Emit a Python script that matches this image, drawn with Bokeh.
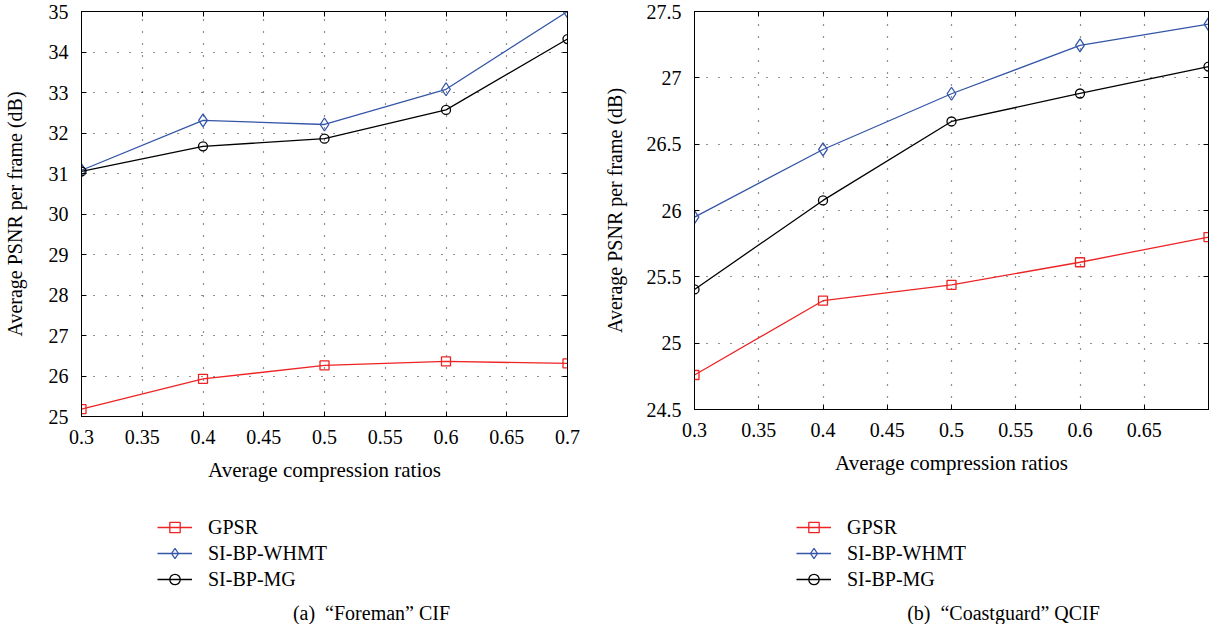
from bokeh.plotting import figure
from bokeh.layouts import row, column
from bokeh.models import (Legend, LegendItem, Label, FixedTicker, LinearAxis,
                          CustomJSTickFormatter, Range1d)
from bokeh.embed import file_html
from bokeh.resources import INLINE

# ---------------- data ----------------
ratios = [0.3, 0.4, 0.5, 0.6, 0.7]
series_names = ["GPSR", "SI-BP-WHMT", "SI-BP-MG"]

foreman_gpsr = [25.18, 25.93, 26.26, 26.36, 26.31]
foreman_whmt = [31.08, 32.31, 32.21, 33.08, 35.0]
foreman_mg = [31.05, 31.67, 31.86, 32.57, 34.32]

coast_gpsr = [24.76, 25.32, 25.44, 25.61, 25.80]
coast_whmt = [25.95, 26.46, 26.88, 27.245, 27.405]
coast_mg = [25.405, 26.076, 26.671, 26.882, 27.085]

x_ticks_a = [0.3, 0.35, 0.4, 0.45, 0.5, 0.55, 0.6, 0.65, 0.7]
x_labels_a = ["0.3", "0.35", "0.4", "0.45", "0.5", "0.55", "0.6", "0.65", "0.7"]
x_ticks_b = [0.3, 0.35, 0.4, 0.45, 0.5, 0.55, 0.6, 0.65]
x_labels_b = ["0.3", "0.35", "0.4", "0.45", "0.5", "0.55", "0.6", "0.65"]
y_ticks_a = [25.0, 26.0, 27.0, 28.0, 29.0, 30.0, 31.0, 32.0, 33.0, 34.0, 35.0]
y_labels_a = ["25", "26", "27", "28", "29", "30", "31", "32", "33", "34", "35"]
y_ticks_b = [24.5, 25.0, 25.5, 26.0, 26.5, 27.0, 27.5]
y_labels_b = ["24.5", "25", "25.5", "26", "26.5", "27", "27.5"]

x_title = "Average compression ratios"
y_title = "Average PSNR per frame (dB)"
caption_a = "(a)\u00a0\u00a0\u201cForeman\u201d CIF"
caption_b = "(b)\u00a0\u00a0\u201cCoastguard\u201d QCIF"

FONT = "Liberation Serif"
RED = "#ee2424"
BLUE = "#3556a8"
BLACK = "#000000"
COLORS = [RED, BLUE, BLACK]
MARKERS = ["square", "diamond", "circle"]
SIZES = [9, 13, 9]


def style_axis(ax, ticks, labels, show_labels=True, standoff=13):
    ax.ticker = FixedTicker(ticks=ticks)
    ax.major_tick_in = 5
    ax.major_tick_out = 0
    ax.minor_tick_in = 0
    ax.minor_tick_out = 0
    ax.axis_line_color = BLACK
    ax.major_tick_line_color = BLACK
    if show_labels:
        ax.major_label_overrides = dict(zip(ticks, labels))
        ax.major_label_text_font = FONT
        ax.major_label_text_font_size = "20px"
        ax.major_label_text_color = BLACK
        ax.major_label_standoff = standoff
    else:
        ax.formatter = CustomJSTickFormatter(code="return ''")
        ax.major_label_text_font_size = "1px"
        ax.major_label_standoff = 0


def make_plot(width, ys, yr, xt, xl, yt, yl, mb_left, mb_right, mb_top, mb_bottom,
              ylab_standoff):
    p = figure(width=width, height=492, x_range=Range1d(0.3, 0.7), y_range=Range1d(*yr),
               output_backend="svg", toolbar_location=None,
               min_border_left=mb_left, min_border_right=mb_right,
               min_border_top=mb_top, min_border_bottom=mb_bottom)
    p.background_fill_color = "white"
    p.border_fill_color = "white"
    p.outline_line_color = BLACK
    p.outline_line_width = 1

    style_axis(p.xaxis[0], xt, xl, True, 13)
    style_axis(p.yaxis[0], yt, yl, True, 13)
    p.xaxis[0].axis_label = x_title
    p.xaxis[0].axis_label_standoff = 11
    p.xaxis[0].axis_label_text_font_size = "21px"
    p.yaxis[0].axis_label = y_title
    p.yaxis[0].axis_label_standoff = ylab_standoff
    p.yaxis[0].axis_label_text_font_size = "20px"
    for ax in (p.xaxis[0], p.yaxis[0]):
        ax.axis_label_text_font = FONT
        ax.axis_label_text_font_style = "normal"
        ax.axis_label_text_color = BLACK

    top = LinearAxis()
    style_axis(top, xt, xl, False)
    p.add_layout(top, "above")
    right = LinearAxis()
    style_axis(right, yt, yl, False)
    p.add_layout(right, "right")

    p.xgrid.ticker = FixedTicker(ticks=xt)
    p.ygrid.ticker = FixedTicker(ticks=yt)
    for g in (p.xgrid, p.ygrid):
        g.grid_line_color = "#222222"
        g.grid_line_width = 1.2
        g.grid_line_dash = "1 11"

    for vals, c, m, s in zip(ys, COLORS, MARKERS, SIZES):
        p.line(ratios, vals, line_color=c, line_width=1.3)
        p.scatter(ratios, vals, marker=m, size=s, line_color=c, line_width=1.3,
                  fill_color=None)
    return p


def make_legend(width, ys, legend_loc, caption, caption_x):
    # legend-only panel: the series are drawn outside its (empty) view range,
    # only their legend glyphs are visible
    q = figure(width=width, height=132, x_range=Range1d(0, 1), y_range=Range1d(0, 1),
               x_axis_location=None, y_axis_location=None, output_backend="svg",
               toolbar_location=None, min_border=0)
    q.grid.visible = False
    q.outline_line_color = None
    q.background_fill_color = "white"
    q.border_fill_color = "white"
    items = []
    for name, vals, c, m, s in zip(series_names, ys, COLORS, MARKERS, SIZES):
        ln = q.line(ratios, vals, line_color=c, line_width=1.3)
        sc = q.scatter(ratios, vals, marker=m, size=s, line_color=c, line_width=1.3,
                       fill_color=None)
        items.append(LegendItem(label=name, renderers=[ln, sc]))
    leg = Legend(items=items, location=legend_loc, orientation="vertical",
                 glyph_width=35, glyph_height=26, label_height=26, label_standoff=16,
                 spacing=0, padding=0, margin=0, border_line_color=None,
                 background_fill_alpha=0, label_text_font=FONT,
                 label_text_font_size="20px", label_text_color=BLACK)
    q.add_layout(leg, "center")
    cap = Label(x=caption_x, y=12, x_units="screen", y_units="screen", text=caption,
                text_align="center", text_baseline="middle", text_font=FONT,
                text_font_size="20px", text_color=BLACK)
    q.add_layout(cap)
    return q


ys_a = [foreman_gpsr, foreman_whmt, foreman_mg]
ys_b = [coast_gpsr, coast_whmt, coast_mg]

p1 = make_plot(598, ys_a, (25, 35), x_ticks_a, x_labels_a, y_ticks_a, y_labels_a,
               79, 31, 11, 76, 20)
p2 = make_plot(612, ys_b, (24.5, 27.5), x_ticks_b, x_labels_b, y_ticks_b, y_labels_b,
               96, 2, 11, 83, 18)
q1 = make_legend(598, ys_a, (76, 32), caption_a, 290)
q2 = make_legend(612, ys_b, (102, 32), caption_b, 309)

layout = row(column(p1, q1), column(p2, q2))
open("out.html", "w").write(file_html(layout, INLINE))
